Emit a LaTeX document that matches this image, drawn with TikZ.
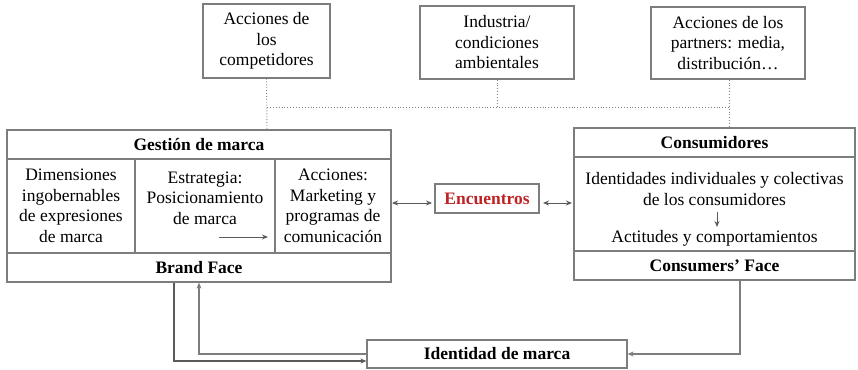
\documentclass[tikz,border=0pt]{standalone}
\usepackage{fontspec}
\setmainfont{Liberation Serif}
\usetikzlibrary{arrows.meta}
\definecolor{boxgray}{RGB}{125,125,125}
\definecolor{linegray}{RGB}{90,90,90}
\definecolor{encred}{RGB}{190,35,35}
\tikzset{
  cell/.style={draw=boxgray, line width=1.2pt, inner sep=0pt, align=center, font=\fontsize{17.5}{20.5}\selectfont},
  txt/.style={inner sep=0pt, align=center, font=\fontsize{17.5}{20.5}\selectfont},
  dotline/.style={draw=boxgray, dotted, line width=0.9pt},
  conn/.style={draw=linegray, line width=1.3pt, -{Stealth[length=6pt,width=5pt]}},
  dconn/.style={draw=linegray, line width=1pt, {Stealth[length=6pt,width=5pt]}-{Stealth[length=6pt,width=5pt]}}
}
\begin{document}
\begin{tikzpicture}[x=1pt,y=-1pt]
\useasboundingbox (0,0) rectangle (858,369);
% top boxes
\node[cell, minimum width=127pt, minimum height=74pt] (comp) at (266.5,41) {Acciones de\\los\\competidores};
\node[cell, minimum width=154pt, minimum height=73pt] (ind) at (497,42.5) {Industria/\\condiciones\\ambientales};
\node[cell, minimum width=154pt, minimum height=72pt] (part) at (728,43) {Acciones de los\\partners: media,\\distribución\dots};
% brand management block
\node[cell, minimum width=384pt, minimum height=29pt, font=\fontsize{17.5}{20.5}\selectfont\bfseries] (gmh) at (199,144.5) {Gestión de marca};
\node[cell, minimum width=128pt, minimum height=94pt] (c1) at (71,206) {Dimensiones\\ingobernables\\de expresiones\\de marca};
\node[cell, minimum width=140pt, minimum height=94pt] (c2) at (205,206) {};
\node[txt] (c2t) at (205,198) {Estrategia:\\Posicionamiento\\de marca};
\node[cell, minimum width=116pt, minimum height=94pt] (c3) at (333,206) {Acciones:\\Marketing y\\programas de\\comunicación};
\node[cell, minimum width=384pt, minimum height=29pt, font=\fontsize{17.5}{20.5}\selectfont\bfseries] (bf) at (199,267.5) {Brand Face};
\coordinate (c2a) at (219,237);
\coordinate (c2b) at (268,237);
\draw[conn, line width=1pt] (c2a) -- (c2b);
% encuentros
\node[cell, minimum width=104pt, minimum height=29pt, text=encred, font=\fontsize{17.5}{20.5}\selectfont\bfseries] (enc) at (487,198.5) {Encuentros};
% consumers block
\node[cell, minimum width=281pt, minimum height=29pt, font=\fontsize{17.5}{20.5}\selectfont\bfseries] (coh) at (714.5,142.5) {Consumidores};
\node[cell, minimum width=281pt, minimum height=94pt] (cob) at (714.5,204) {};
\node[txt] (cot1) at (714.5,189) {Identidades individuales y colectivas\\de los consumidores};
\node[txt] (cot2) at (714.5,238) {Actitudes y comportamientos};
\node[cell, minimum width=281pt, minimum height=29pt, font=\fontsize{17.5}{20.5}\selectfont\bfseries] (cof) at (714.5,265.5) {Consumers’ Face};
\coordinate (coa) at (717,212);
\coordinate (cob2) at (717,227);
\draw[conn, line width=1pt] (coa) -- (cob2);
% identidad
\node[cell, minimum width=260pt, minimum height=28pt, font=\fontsize{17.5}{20.5}\selectfont\bfseries] (id) at (497,354) {Identidad de marca};
% dotted environment lines
\coordinate (j1) at (267,107);
\coordinate (j2) at (497,107);
\coordinate (j3) at (729,107);
\draw[dotline] (comp.south) -- (j1 |- gmh.north);
\draw[dotline] (j1) -- (j3);
\draw[dotline] (ind.south) -- (j2);
\draw[dotline] (j3 |- part.south) -- (j3 |- coh.north);
% encounters arrows
\coordinate (ea) at (392,203);
\coordinate (eb) at (432,203);
\coordinate (ec) at (543,203);
\coordinate (ed) at (572,203);
\draw[dconn] (ea) -- (eb);
\draw[dconn] (ec) -- (ed);
% bottom loop
\coordinate (b1) at (174,361);
\coordinate (b2) at (199,354);
\coordinate (b3) at (740,354);
\draw[conn] (bf.south -| b1) -- (b1) -- (b1 -| id.west);
\draw[conn, draw=boxgray] (id.west |- b2) -- (b2) -- (b2 |- bf.south);
\draw[conn, draw=boxgray] (b3 |- cof.south) -- (b3) -- (b3 -| id.east);
\end{tikzpicture}
\end{document}
